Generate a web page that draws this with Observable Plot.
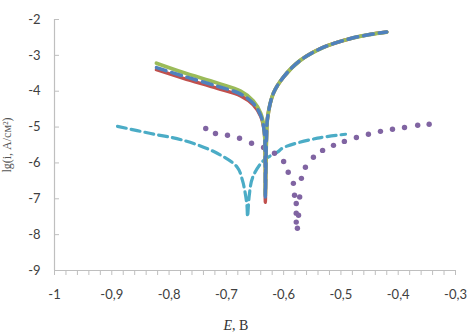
<!DOCTYPE html>
<html>
<head>
<meta charset="utf-8">
<script src="https://cdn.jsdelivr.net/npm/d3@7"></script>
<script src="https://cdn.jsdelivr.net/npm/@observablehq/plot@0.6"></script>
<style>
  html, body { margin: 0; padding: 0; background: #fff; }
  #chart { width: 471px; height: 336px; }
</style>
</head>
<body>
<div id="chart"></div>
<script>
// Tick values
const xTicks = [-1, -0.9, -0.8, -0.7, -0.6, -0.5, -0.4, -0.3];
const xMinorTicks = [-1, -0.98, -0.96, -0.94, -0.92, -0.9, -0.88, -0.86, -0.84, -0.82, -0.8,
  -0.78, -0.76, -0.74, -0.72, -0.7, -0.68, -0.66, -0.64, -0.62, -0.6, -0.58, -0.56, -0.54,
  -0.52, -0.5, -0.48, -0.46, -0.44, -0.42, -0.4, -0.38, -0.36, -0.34, -0.32, -0.3];
const yTicks = [-9, -8, -7, -6, -5, -4, -3, -2];

// Main curves (three nearly coincident series)
const mainE = [-0.822, -0.775, -0.716, -0.675, -0.653, -0.640, -0.634, -0.632, -0.632,
  -0.630, -0.628, -0.618, -0.600, -0.571, -0.531, -0.483, -0.450, -0.420];
const blueLg = [-3.34, -3.58, -3.86, -4.08, -4.34, -4.68, -5.10, -6.00, -6.95,
  -5.30, -4.73, -4.06, -3.60, -3.14, -2.78, -2.53, -2.42, -2.35];
const greenLg = [-3.22, -3.48, -3.77, -4.00, -4.27, -4.62, -5.05, -6.00, -6.90,
  -5.30, -4.73, -4.06, -3.60, -3.14, -2.78, -2.53, -2.42, -2.35];
const redLg = [-3.40, -3.64, -3.92, -4.13, -4.38, -4.70, -5.10, -6.00, -7.10,
  -5.30, -4.73, -4.06, -3.60, -3.14, -2.78, -2.53, -2.42, -2.35];

// Cyan dashed series
const cyanE = [-0.890, -0.832, -0.775, -0.716, -0.681, -0.672, -0.667, -0.664, -0.663,
  -0.660, -0.654, -0.635, -0.611, -0.600, -0.541, -0.492];
const cyanLg = [-4.98, -5.18, -5.37, -5.73, -6.12, -6.48, -6.85, -7.20, -7.50,
  -6.90, -6.40, -5.93, -5.70, -5.57, -5.31, -5.20];

// Purple dotted series
const purpleE = [-0.736, -0.719, -0.698, -0.677, -0.656, -0.635, -0.616, -0.600, -0.592,
  -0.583, -0.581, -0.578, -0.578, -0.578, -0.576, -0.574, -0.572, -0.569, -0.562, -0.548,
  -0.532, -0.513, -0.494, -0.473, -0.452, -0.431, -0.410, -0.389, -0.366, -0.346];
const purpleLg = [-5.04, -5.18, -5.23, -5.31, -5.45, -5.57, -5.73, -5.96, -6.26,
  -6.57, -6.90, -7.13, -7.40, -7.65, -7.82, -7.46, -6.95, -6.43, -6.12, -5.84,
  -5.65, -5.51, -5.40, -5.29, -5.20, -5.12, -5.06, -5.01, -4.95, -4.92];

const toRows = (E, L) => E.map((e, i) => ({E: e, lg: L[i]}));
const fmt = d => String(Math.round(d * 10) / 10).replace(".", ",");
const axisColor = "#bfbfbf";

const plot = Plot.plot({
  width: 471,
  height: 336,
  marginLeft: 54,
  marginRight: 16,
  marginTop: 19,
  marginBottom: 66,
  x: {domain: [-1, -0.3]},
  y: {domain: [-9, -2]},
  style: {fontFamily: "Lato, 'Liberation Sans', sans-serif", fontSize: "13px", color: "#404040", background: "#fff"},
  marks: [
    Plot.axisX({ticks: xMinorTicks, tickSize: 5, tickFormat: () => "", stroke: axisColor, label: null}),
    Plot.axisX({ticks: xTicks, tickSize: 0, tickPadding: 19, tickFormat: fmt, label: null}),
    Plot.axisY({ticks: yTicks, tickSize: 5, dx: 5, tickFormat: () => "", stroke: axisColor, label: null}),
    Plot.axisY({ticks: yTicks, tickSize: 0, tickPadding: 14, tickFormat: fmt, label: null}),
    Plot.ruleX([-1], {stroke: axisColor, strokeWidth: 1.2}),
    Plot.ruleY([-9], {stroke: axisColor, strokeWidth: 1.2}),
    Plot.line(toRows(cyanE, cyanLg), {x: "E", y: "lg", stroke: "#4BACC6", strokeWidth: 3.2, strokeDasharray: "9,5", curve: "catmull-rom"}),
    Plot.dot(toRows(purpleE, purpleLg), {x: "E", y: "lg", r: 2.7, fill: "#8064A2", stroke: "none"}),
    Plot.line(toRows(mainE, redLg), {x: "E", y: "lg", stroke: "#C0504D", strokeWidth: 3.5, curve: "catmull-rom"}),
    Plot.line(toRows(mainE, greenLg), {x: "E", y: "lg", stroke: "#9BBB59", strokeWidth: 3.8, curve: "catmull-rom"}),
    Plot.line(toRows(mainE, blueLg), {x: "E", y: "lg", stroke: "#4F81BD", strokeWidth: 3.5, strokeDasharray: "10,6", curve: "catmull-rom"})
  ]
});

const svg = d3.select(plot);
// x axis title "E, B"
const xt = svg.append("text")
  .attr("x", 236).attr("y", 330)
  .attr("text-anchor", "middle")
  .attr("font-family", "'Liberation Serif', 'DejaVu Serif', serif")
  .attr("font-size", 14)
  .attr("fill", "#333");
xt.append("tspan").attr("font-style", "italic").text("E");
xt.append("tspan").text(", В");
// y axis title
svg.append("text")
  .attr("transform", "translate(11,145) rotate(-90)")
  .attr("text-anchor", "middle")
  .attr("font-family", "'Liberation Serif', 'DejaVu Serif', serif")
  .attr("font-size", 12)
  .attr("fill", "#555")
  .text("lg(i, А/см²)");

document.getElementById("chart").appendChild(plot);
</script>
</body>
</html>
